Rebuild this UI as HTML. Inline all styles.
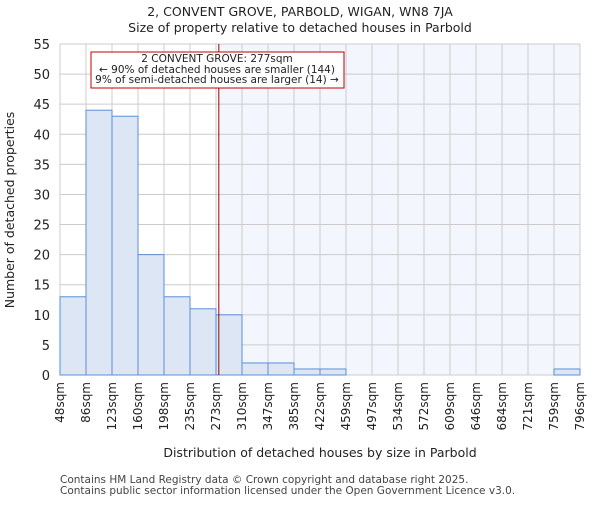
<!DOCTYPE html>
<html><head><meta charset="utf-8"><style>body{margin:0;background:#fff}svg{font-family:"DejaVu Sans","Liberation Sans",sans-serif}</style></head>
<body>
<svg id="c" width="600" height="500" xmlns="http://www.w3.org/2000/svg"></svg>
<script>
const binEdges=[48,86,123,160,198,235,273,310,347,385,422,459,497,534,572,609,646,684,721,759,796];
const counts=[13,44,43,20,13,11,10,2,2,1,1,0,0,0,0,0,0,0,0,1];
const yTicks=[0,5,10,15,20,25,30,35,40,45,50,55];
const propSize=277;
const L=60,R=580,T=44,B=375,yMax=55;
const svg=document.getElementById('c');const NS='http://www.w3.org/2000/svg';
function ix(i){return L+(R-L)*i/(binEdges.length-1);}
function xv(v){for(let i=0;i<binEdges.length-1;i++){if(v<=binEdges[i+1])return ix(i)+(v-binEdges[i])/(binEdges[i+1]-binEdges[i])*(ix(i+1)-ix(i));}return R;}
function y(v){return B-(B-T)*v/yMax;}
function el(t,a,name,txt){const e=document.createElementNS(NS,t);for(const k in a)e.setAttribute(k,a[k]);


if(txt!==undefined)e.textContent=txt;svg.appendChild(e);return e;}
el('rect',{x:L,y:T,width:R-L,height:B-T,fill:'#fff'},'plot-background');
const px=xv(propSize);
el('rect',{x:px,y:T,width:R-px,height:B-T,fill:'#f3f6fd'},'larger-region-shade');
yTicks.forEach(t=>{el('line',{x1:L,x2:R,y1:y(t),y2:y(t),stroke:'#ccc','stroke-width':1},'y-gridline');
el('text',{x:L-10,y:y(t)+5,'text-anchor':'end','font-size':13,fill:'#222'},'y-tick-label',t);});
binEdges.forEach((b,i)=>{el('line',{x1:ix(i),x2:ix(i),y1:T,y2:B,stroke:'#ccc','stroke-width':1},'x-gridline');
el('text',{x:0,y:0,'text-anchor':'end','font-size':12,fill:'#222',transform:`translate(${ix(i)+4},382) rotate(-90)`},'x-tick-label',b+'sqm');});
counts.forEach((c,i)=>{if(c>0)el('rect',{x:ix(i),y:y(c),width:ix(i+1)-ix(i),height:B-y(c),fill:'#dce6f5',stroke:'#5b8fd6','stroke-width':1},'bar');});
el('line',{x1:px,x2:px,y1:T,y2:B,stroke:'#a00000','stroke-width':1},'property-marker-line');
el('rect',{x:91,y:52,width:253,height:36,fill:'#fff',stroke:'#c00000','stroke-width':1},'annotation-box');
el('text',{x:217,y:62,'text-anchor':'middle','font-size':10.5,fill:'#222'},'annotation-title','2 CONVENT GROVE: 277sqm');
el('text',{x:217,y:73,'text-anchor':'middle','font-size':10.5,fill:'#222'},'annotation-smaller','← 90% of detached houses are smaller (144)');
el('text',{x:217,y:83,'text-anchor':'middle','font-size':10.5,fill:'#222'},'annotation-larger','9% of semi-detached houses are larger (14) →');
el('text',{x:300,y:16,'text-anchor':'middle','font-size':12.5,fill:'#222'},'chart-title','2, CONVENT GROVE, PARBOLD, WIGAN, WN8 7JA');
el('text',{x:300,y:32,'text-anchor':'middle','font-size':12.5,fill:'#222'},'chart-subtitle','Size of property relative to detached houses in Parbold');
el('text',{x:0,y:0,'text-anchor':'middle','font-size':12.5,fill:'#222',transform:'translate(14,210) rotate(-90)'},'y-axis-title','Number of detached properties');
el('text',{x:320,y:457,'text-anchor':'middle','font-size':12.5,fill:'#222'},'x-axis-title','Distribution of detached houses by size in Parbold');
el('text',{x:60,y:483,'font-size':10.5,fill:'#444'},'footer-line1','Contains HM Land Registry data © Crown copyright and database right 2025.');
el('text',{x:60,y:494,'font-size':10.5,fill:'#444'},'footer-line2','Contains public sector information licensed under the Open Government Licence v3.0.');
</script>
</body></html>
